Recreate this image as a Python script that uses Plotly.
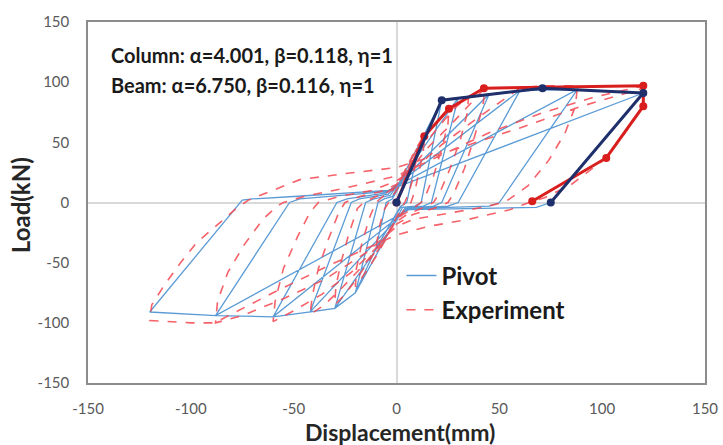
import plotly.graph_objects as go

# ---------------- data ----------------
pivot_x = [0, 10, 5, 2, -10, -5, -2,
           10, 22, 12, 9, 2, -10, -20, -9, -6, -2,
           22, 30, 17, 13, 3, -20, -30, -15, -11, -3,
           30, 45, 22, 18, 4, -30, -42, -22, -18, -4,
           45, 60, 30, 25, 5, -42, -60, -29, -24, -5,
           60, 88, 50, 45, 6, -60, -88, -52, -47, -5,
           88, 120, 75, 68, 6, -88, -120, -75, -70, -50, -4, 120, 75]
pivot_y = [0, 40, 0, -3, -38, 0, 3,
           40, 85, 0, -3, -4, -38, -75, 0, 3, 5,
           85, 87, 0, -3, -4, -75, -88, 0, 3, 6,
           87, 90, 0, -3, -5, -88, -91, 0, 3, 7,
           90, 93, 0, -3, -5, -91, -95, 0, 3, 8,
           93, 94, 0, -3, -5, -95, -94, 0, 3, 9,
           94, 91, 0, -4, -6, -94, -91, 2, 3, 5, 10, 91, 0]

exp_x = [0, 3, 6, 9, 10, 9.5, 8, 6, 4, 2, 0, -3, -6, -9, -10, -9.5, -8, -6, -4, -2, 0,
         4, 8, 12, 13.5, 13, 11, 9, 7, 4, 0, -5, -10, -15, -20, -19.5, -17, -13, -10, -6, -2, 0,
         5, 10, 16, 22, 25.5, 25, 22, 18, 14, 12, 8, 3, 0, -6, -12, -20, -26, -30, -29.5, -27, -23, -19, -16, -10, -4, 0,
         6, 12, 20, 28, 35, 34.5, 31, 26, 21, 18, 12, 5, 0, -8, -16, -26, -35, -42, -41, -38, -33, -28, -25, -18, -8, 0,
         8, 16, 26, 36, 43, 42, 38, 33, 28, 25, 18, 8, 0, -10, -22, -36, -50, -60, -59, -55, -48, -42, -38, -28, -12, 0,
         10, 22, 36, 50, 60, 70, 80, 88, 87, 82, 74, 64, 55, 52, 42, 25, 8, 0, -15, -35, -55, -75, -88, -87, -82, -74, -65, -58, -55, -45, -25, 0,
         20, 45, 70, 95, 110, 120, 120, 112, 102, 85, 72, 66, 55, 35, 15, 0, -30, -60, -85, -88, -100, -110, -120,
         -119, -113, -105, -97, -86, -78, -72, -60, -47, -25, 0, 30, 60, 90, 120]
exp_y = [0, 15, 30, 42, 45, 35, 20, 8, 0, -6, -12, -22, -32, -40, -42, -32, -18, -6, 0, 5, 10,
         25, 40, 52, 55, 42, 25, 10, 0, -6, -14, -30, -45, -58, -70, -55, -35, -12, 0, 6, 10, 14,
         30, 45, 60, 72, 78, 65, 45, 22, 5, 0, -5, -10, -14, -30, -45, -65, -78, -85, -70, -50, -25, -5, 0, 5, 9, 14,
         30, 45, 62, 78, 88, 75, 52, 28, 8, 0, -5, -10, -16, -35, -52, -70, -85, -93, -78, -55, -30, -8, 0, 5, 9, 15,
         30, 47, 64, 82, 95, 80, 55, 28, 8, 0, -5, -10, -18, -38, -58, -76, -90, -99, -82, -55, -28, -8, 0, 5, 10, 18,
         30, 48, 66, 83, 95, 97, 97, 97, 80, 58, 35, 14, 3, 0, -4, -9, -14, -20, -42, -64, -80, -94, -100, -82, -58, -35, -14, -3, 0, 5, 12, 22,
         38, 58, 74, 87, 93, 97, 80, 60, 37, 15, 4, 1, -6, -14, -20, -27, -50, -75, -97, -100, -100, -99, -98,
         -85, -69, -50, -33, -17, -5, 2, 10, 19, 24, 29, 45, 62, 80, 95]

pivot_env_x = [0, 22, 71, 120, 75]
pivot_env_y = [0, 85, 95, 91, 0]
exp_env_x = [0, 13.5, 25.5, 42.5, 120, 120, 102, 66]
exp_env_y = [0, 55, 78, 95, 97, 80, 37, 1]

x_ticks = [-150, -100, -50, 0, 50, 100, 150]
y_ticks = [-150, -100, -50, 0, 50, 100, 150]

# ---------------- figure ----------------
fig = go.Figure()
fig.add_trace(go.Scatter(x=pivot_x, y=pivot_y, mode="lines", name="<b>Pivot</b>",
                         line=dict(color="#5b9bd5", width=1.3)))
fig.add_trace(go.Scatter(x=exp_x, y=exp_y, mode="lines", name="<b>Experiment</b>",
                         line=dict(color="rgba(245,70,80,0.85)", width=1.6, dash="dash")))
fig.add_trace(go.Scatter(x=exp_env_x, y=exp_env_y, mode="lines+markers", showlegend=False,
                         line=dict(color="#d91e1e", width=3), marker=dict(size=8, color="#d91e1e")))
fig.add_trace(go.Scatter(x=pivot_env_x, y=pivot_env_y, mode="lines+markers", showlegend=False,
                         line=dict(color="#1f2f6b", width=3), marker=dict(size=8, color="#1f2f6b")))

tickfont = dict(family="Lato, sans-serif", size=15, color="#595959")
titlefont = dict(family="Lato, sans-serif", size=23, color="#262626")
fig.update_xaxes(range=[-150, 150], tickvals=x_ticks, ticktext=[str(v) for v in x_ticks],
                 showgrid=False, zeroline=True, zerolinecolor="#d9d9d9", zerolinewidth=1.5,
                 showline=True, linecolor="#8c8c8c", linewidth=1.5, mirror=True,
                 ticks="", tickfont=tickfont, ticklabelstandoff=11, automargin=False)
fig.update_yaxes(range=[-150, 150], tickvals=y_ticks, ticktext=[str(v) for v in y_ticks],
                 showgrid=False, zeroline=True, zerolinecolor="#d9d9d9", zerolinewidth=1.5,
                 showline=True, linecolor="#8c8c8c", linewidth=1.5, mirror=True,
                 ticks="", tickfont=tickfont, ticklabelstandoff=14, automargin=False)

fig.add_annotation(xref="paper", yref="paper", x=0.506, y=-0.136, xanchor="center", yanchor="middle",
                   text="<b>Displacement(mm)</b>", showarrow=False, font=titlefont)
fig.add_annotation(xref="paper", yref="paper", x=-0.110, y=0.493, xanchor="center", yanchor="middle",
                   text="<b>Load(kN)</b>", showarrow=False, textangle=-90,
                   font=dict(family="Lato, sans-serif", size=24, color="#262626"))

fig.add_annotation(xref="paper", yref="paper", x=0.034, y=0.909, xanchor="left", yanchor="middle",
                   text="<b>Column: α=4.001, β=0.118, η=1</b>", showarrow=False,
                   font=dict(family="Lato, sans-serif", size=20, color="#1a1a1a"))
fig.add_annotation(xref="paper", yref="paper", x=0.034, y=0.825, xanchor="left", yanchor="middle",
                   text="<b>Beam: α=6.750, β=0.116, η=1</b>", showarrow=False,
                   font=dict(family="Lato, sans-serif", size=20, color="#1a1a1a"))

fig.update_layout(width=723, height=445, paper_bgcolor="white", plot_bgcolor="white",
                  margin=dict(l=88, r=18, t=22, b=62, autoexpand=False),
                  legend=dict(x=0.508, y=0.359, xanchor="left", yanchor="top",
                              bgcolor="rgba(255,255,255,0)", itemwidth=30, tracegroupgap=0,
                              font=dict(family="Lato, sans-serif", size=24, color="#1a1a1a")),
                  showlegend=True)

fig.write_html("out.html", config={"displayModeBar": False},
               post_script="document.body.style.margin='0';document.body.style.overflow='hidden';")
